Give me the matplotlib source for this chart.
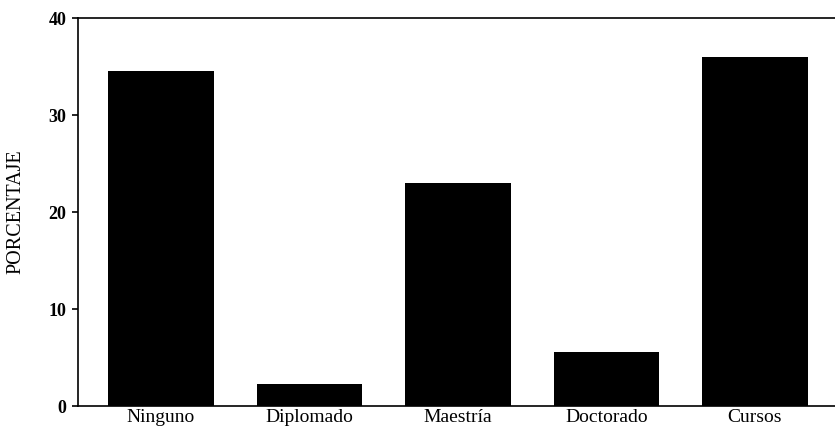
import matplotlib.pyplot as plt

categorias = ["Ninguno", "Diplomado", "Maestría", "Doctorado", "Cursos"]
porcentaje = [34.5, 2.3, 23.0, 5.6, 36.0]

plt.rcParams["font.family"] = ["Liberation Serif", "DejaVu Serif"]

fig = plt.figure(figsize=(8.35, 4.34), dpi=100)
ax = fig.add_axes([0.093, 0.0645, 0.907, 0.894])

ax.bar(range(len(categorias)), porcentaje, width=0.71, color="black")
ax.set_xlim(-0.56, 4.54)
ax.set_ylim(0, 40)
ax.set_yticks([0, 10, 20, 30, 40])
ax.set_yticklabels(["0", "10", "20", "30", "40"], fontsize=13, fontweight="bold")
ax.set_xticks(range(len(categorias)))
ax.set_xticklabels(categorias, fontsize=14)
ax.tick_params(axis="x", length=0, pad=2)
ax.tick_params(axis="y", length=4, width=1.2, pad=4)
ax.set_ylabel("PORCENTAJE", fontsize=14.5, labelpad=17)

ax.spines["right"].set_visible(False)
for s in ["left", "bottom", "top"]:
    ax.spines[s].set_linewidth(1.2)

fig.savefig("out.png", dpi=100)
